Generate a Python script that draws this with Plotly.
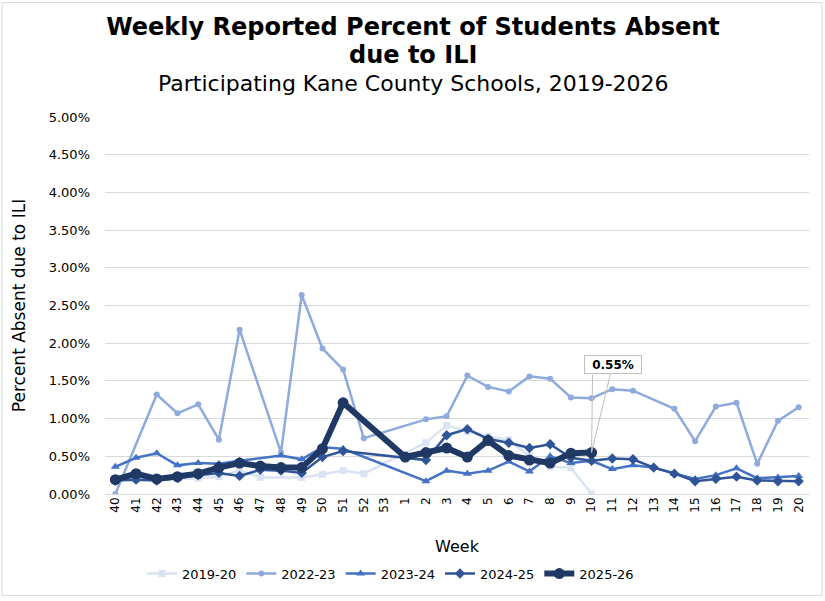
import plotly.graph_objects as go

# week categories (MMWR weeks, school season)
weeks = [str(w) for w in list(range(40, 54)) + list(range(1, 21))]

# percent absent due to ILI, None = no report that week
s2019_20 = [0.18, 0.20, 0.19, 0.20, 0.21, 0.23, 0.31, 0.22, None, 0.22, 0.26, 0.31, 0.27, None,
            None, 0.68, 0.91, 0.83, 0.76, 0.72, 0.50, 0.36, 0.35, 0.00,
            None, None, None, None, None, None, None, None, None, None]
s2022_23 = [0.00, None, 1.32, 1.07, 1.19, 0.72, 2.18, None, 0.55, 2.64, 1.93, 1.65, 0.74, None,
            None, 0.99, 1.03, 1.57, 1.42, 1.36, 1.56, 1.53, 1.28, 1.27,
            1.39, 1.37, None, 1.13, 0.70, 1.16, 1.21, 0.40, 0.97, 1.15]
s2023_24 = [0.36, 0.48, 0.54, 0.38, 0.41, 0.40, 0.44, None, 0.51, 0.46, 0.62, 0.60, None, None,
            None, 0.17, 0.31, 0.27, 0.31, 0.43, 0.30, 0.50, 0.41, 0.44,
            0.33, 0.38, 0.35, 0.27, 0.20, 0.25, 0.34, 0.21, 0.22, 0.24]
s2024_25 = [0.18, 0.19, 0.18, 0.21, 0.25, 0.28, 0.24, 0.32, 0.31, 0.28, 0.49, 0.57, None, None,
            None, 0.45, 0.78, 0.86, 0.73, 0.68, 0.61, 0.66, 0.48, 0.44,
            0.47, 0.46, 0.35, 0.27, 0.17, 0.20, 0.23, 0.18, 0.17, 0.17]
s2025_26 = [0.19, 0.27, 0.20, 0.23, 0.27, 0.35, 0.41, 0.37, 0.35, 0.35, 0.60, 1.21, None, None,
            0.49, 0.55, 0.61, 0.49, 0.71, 0.51, 0.45, 0.41, 0.54, 0.55,
            None, None, None, None, None, None, None, None, None, None]

fnt = "DejaVu Sans"

fig = go.Figure()

fig.add_trace(go.Scatter(x=weeks, y=s2019_20, name="2019-20", mode="lines+markers",
                         connectgaps=True,
                         line=dict(color="#DAE3F3", width=2.5),
                         marker=dict(symbol="square", size=7, color="#DAE3F3")))
fig.add_trace(go.Scatter(x=weeks, y=s2022_23, name="2022-23", mode="lines+markers",
                         connectgaps=True,
                         line=dict(color="#8FAADC", width=2.5),
                         marker=dict(symbol="circle", size=6, color="#8FAADC")))
fig.add_trace(go.Scatter(x=weeks, y=s2023_24, name="2023-24", mode="lines+markers",
                         connectgaps=True,
                         line=dict(color="#4472C4", width=2.5),
                         marker=dict(symbol="triangle-up", size=8, color="#4472C4")))
fig.add_trace(go.Scatter(x=weeks, y=s2024_25, name="2024-25", mode="lines+markers",
                         connectgaps=True,
                         line=dict(color="#2F5597", width=2.5),
                         marker=dict(symbol="diamond", size=8, color="#2F5597")))
fig.add_trace(go.Scatter(x=weeks, y=s2025_26, name="2025-26", mode="lines+markers",
                         connectgaps=True,
                         line=dict(color="#203864", width=6),
                         marker=dict(symbol="circle", size=11, color="#203864")))

# callout on latest value (x given as category index), two leader lines like excel
last_i = max(i for i, v in enumerate(s2025_26) if v is not None)
fig.add_annotation(x=last_i, y=s2025_26[last_i], text=" ",
                   showarrow=True, arrowhead=0, arrowwidth=1, arrowcolor="#BFBFBF",
                   ax=1, ay=-80, standoff=0, font=dict(size=1))
fig.add_annotation(x=last_i, y=s2025_26[last_i], text="<b>%.2f%%</b>" % s2025_26[last_i],
                   showarrow=True, arrowhead=0, arrowwidth=1, arrowcolor="#BFBFBF",
                   ax=21, ay=-88, standoff=0, width=54, height=15,
                   bgcolor="white", bordercolor="#BFBFBF", borderwidth=1, borderpad=1,
                   font=dict(family=fnt, size=12, color="#000000"))

# second title line and subtitle
fig.add_annotation(x=(413 - 105) / 704, xref="paper", y=(496 - 55) / 379, yref="paper",
                   xanchor="center", yanchor="middle", showarrow=False,
                   text="<b>due to ILI</b>",
                   font=dict(family=fnt, size=24, color="#000000"))
fig.add_annotation(x=(413 - 105) / 704, xref="paper", y=(496 - 83) / 379, yref="paper",
                   xanchor="center", yanchor="middle", showarrow=False,
                   text="Participating Kane County Schools, 2019-2026",
                   font=dict(family=fnt, size=22, color="#000000"))

# outer chart border
fig.add_shape(type="rect", xref="paper", yref="paper",
              x0=(2 - 105) / 704, x1=(822 - 105) / 704,
              y0=(496 - 598) / 379, y1=(496 - 2) / 379,
              line=dict(color="#D9D9D9", width=1))

fig.update_layout(
    width=825, height=601,
    margin=dict(l=105, r=16, t=117, b=105),
    paper_bgcolor="white", plot_bgcolor="white",
    font=dict(family=fnt, color="#000000"),
    title=dict(text="<b>Weekly Reported Percent of Students Absent</b>",
               x=413 / 825, xanchor="center", y=1 - 27 / 601, yanchor="middle",
               font=dict(family=fnt, size=24, color="#000000")),
    showlegend=True,
    legend=dict(orientation="h", x=(142 - 105) / 704, xanchor="left",
                y=(496 - 576) / 379, yanchor="middle",
                font=dict(family=fnt, size=13, color="#000000"),
                itemwidth=30, tracegroupgap=0),
    xaxis=dict(type="category", categoryorder="array", categoryarray=weeks,
               range=[-0.5, len(weeks) - 0.5], tickangle=-90,
               tickfont=dict(family=fnt, size=12, color="#000000"),
               showgrid=False, showline=False, ticks="",
               title=dict(text="Week", font=dict(family=fnt, size=16, color="#000000"),
                          standoff=29)),
    yaxis=dict(range=[0, 5], dtick=0.5, tickformat=".2f", ticksuffix="%",
               tickfont=dict(family=fnt, size=13, color="#000000"),
               showgrid=True, gridcolor="#D9D9D9", gridwidth=1,
               zeroline=True, zerolinecolor="#D9D9D9", zerolinewidth=1,
               showline=False, ticks="", ticklabelstandoff=14,
               title=dict(text="Percent Absent due to ILI",
                          font=dict(family=fnt, size=17, color="#000000"), standoff=18)),
)

fig.write_html("out.html", config={"displayModeBar": False},
               post_script="document.body.style.margin='0';")
